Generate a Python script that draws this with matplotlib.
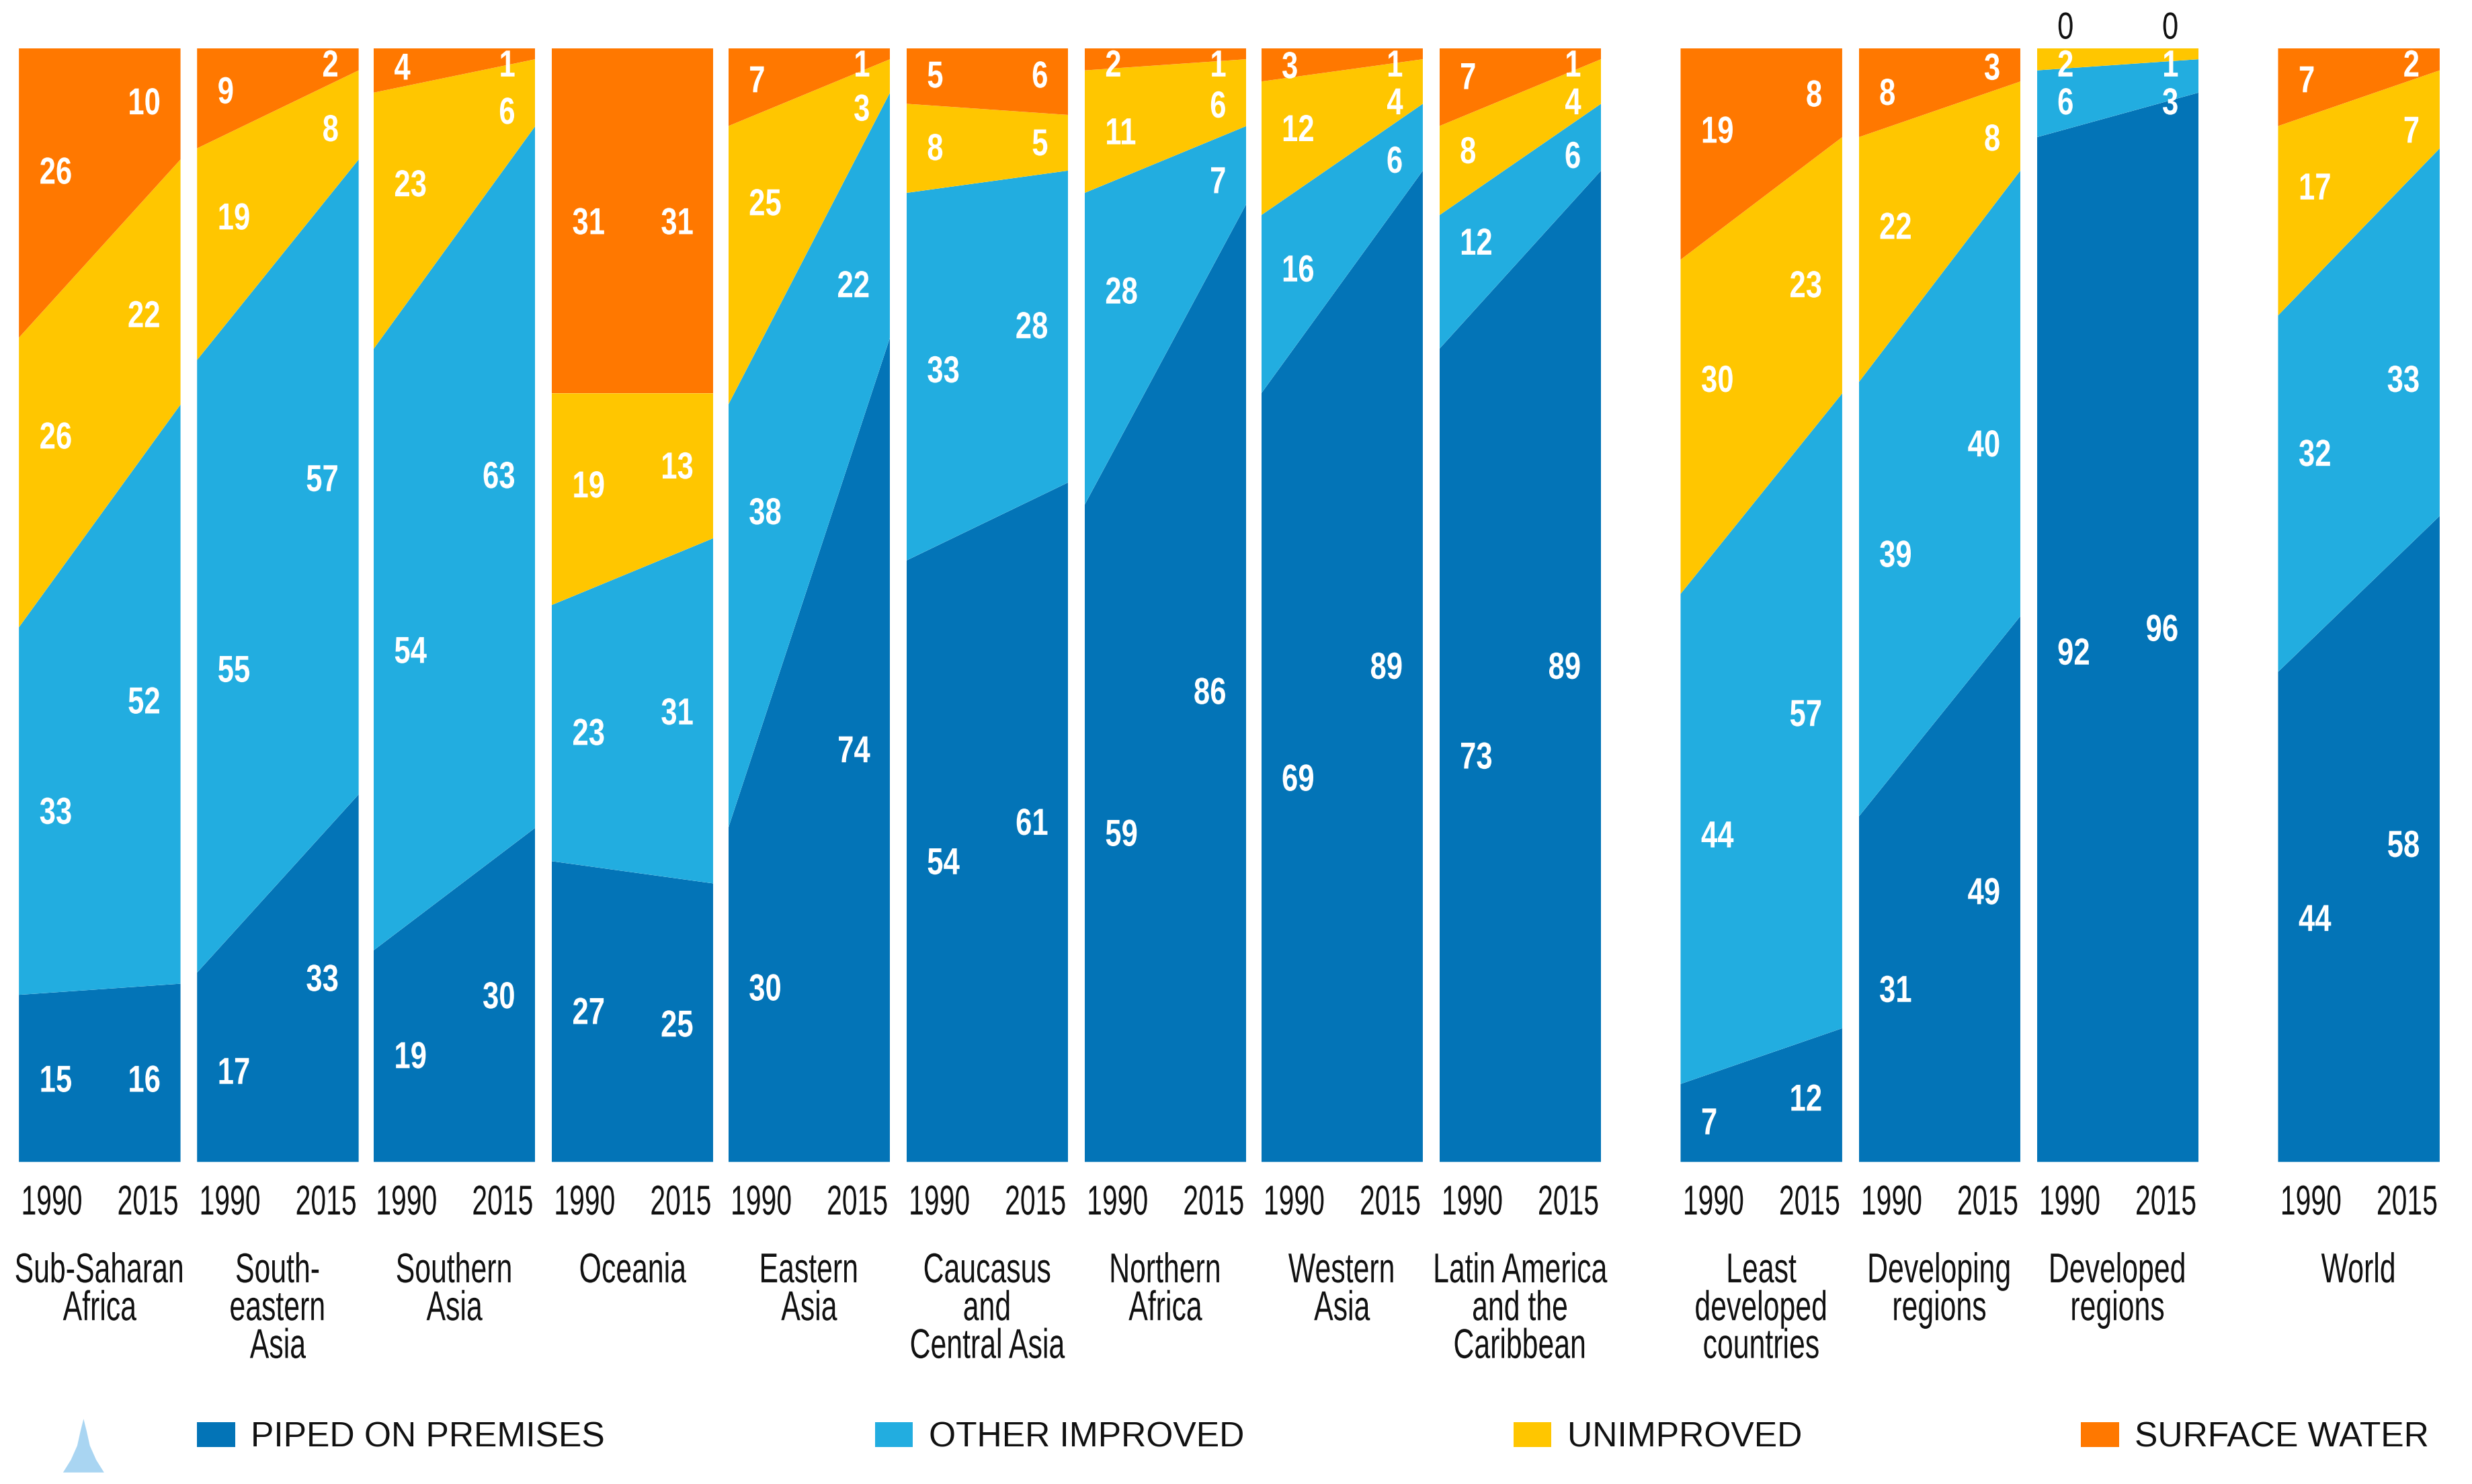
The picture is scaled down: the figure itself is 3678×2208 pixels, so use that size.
import matplotlib
matplotlib.use("Agg")
import matplotlib.pyplot as plt
from matplotlib.patches import Polygon, Rectangle
from matplotlib.patheffects import AbstractPathEffect
from matplotlib.text import Text
from matplotlib.transforms import Affine2D, Bbox

REGIONS = ["Sub-Saharan\nAfrica", "South-\neastern\nAsia", "Southern\nAsia", "Oceania", "Eastern\nAsia",
           "Caucasus\nand\nCentral Asia", "Northern\nAfrica", "Western\nAsia", "Latin America\nand the\nCaribbean",
           "Least\ndeveloped\ncountries", "Developing\nregions", "Developed\nregions", "World"]
YEARS = ["1990", "2015"]
CATEGORIES = ["PIPED ON PREMISES", "OTHER IMPROVED", "UNIMPROVED", "SURFACE WATER"]

PIPED_1990 = [15, 17, 19, 27, 30, 54, 59, 69, 73, 7, 31, 92, 44]
PIPED_2015 = [16, 33, 30, 25, 74, 61, 86, 89, 89, 12, 49, 96, 58]
OTHER_1990 = [33, 55, 54, 23, 38, 33, 28, 16, 12, 44, 39, 6, 32]
OTHER_2015 = [52, 57, 63, 31, 22, 28, 7, 6, 6, 57, 40, 3, 33]
UNIMP_1990 = [26, 19, 23, 19, 25, 8, 11, 12, 8, 30, 22, 2, 17]
UNIMP_2015 = [22, 8, 6, 13, 3, 5, 6, 4, 4, 23, 8, 1, 7]
SURF_1990 = [26, 9, 4, 31, 7, 5, 2, 3, 7, 19, 8, 0, 7]
SURF_2015 = [10, 2, 1, 31, 1, 6, 1, 1, 1, 8, 3, 0, 2]

# layout, in units of a 1568-wide view of the canvas
S = 3678 / 1568
W, H = 3678, 2208
PANEL_LEFT = [12, 125, 237, 350, 462, 575, 688, 800, 913, 1066, 1179, 1292, 1445]
PANEL_W = 102.5
TOP, BOTTOM = 30.5, 737
LABEL_Y_1990 = [(685, 515, 277, 109), (680, 425, 138, 58), (670, 413, 117, 43), (642, 465, 308, 141),
                (627, 325, 129, 51), (547, 235, 94, 48), (529, 185, 84, 41), (494, 171, 82, 42),
                (480, 154, 96, 49), (712, 530, 241, 83), (628, 352, 144, 59), (414, 65, 41, 17),
                (583, 288, 119, 51)]
LABEL_Y_2015 = [(685, 445, 200, 65), (621, 304, 82, 41), (632, 302, 71, 41), (650, 452, 296, 141),
                (476, 181, 69, 41), (522, 207, 91, 48), (439, 115, 67, 41), (423, 102, 65, 41),
                (423, 99, 65, 41), (697, 453, 181, 60), (566, 282, 88, 43), (399, 65, 41, 17),
                (536, 241, 83, 41)]
LEGEND_X = [125, 555, 960, 1320]
COLORS = ["#0374B7", "#22ADE0", "#FFC600", "#FF7800"]
FONT = "Liberation Sans"
INK = "#111111"


class Condense(AbstractPathEffect):
    """Draw a text narrower than its font, keeping its anchor in place."""

    def __init__(self, sx, anchor):
        super().__init__()
        self.sx, self.anchor = sx, anchor

    def draw_path(self, renderer, gc, tpath, affine, rgbFace=None):
        xs = tpath.vertices[:, 0]
        a = {"left": xs.min(), "right": xs.max(), "center": (xs.min() + xs.max()) / 2}[self.anchor]
        t = Affine2D().translate(-a, 0).scale(self.sx, 1).translate(a, 0) + affine
        renderer.draw_path(gc, tpath, t, rgbFace)


class NarrowText(Text):
    """Text whose reported extent is that of its condensed drawing."""

    def __init__(self, *args, sx=1.0, **kwargs):
        super().__init__(*args, **kwargs)
        self.sx = sx
        self.set_path_effects([Condense(sx, self.get_ha())])

    def get_window_extent(self, renderer=None, dpi=None):
        b = super().get_window_extent(renderer, dpi)
        anchor = {"left": b.x0, "right": b.x1, "center": (b.x0 + b.x1) / 2}[self.get_ha()]
        return Bbox.from_extents(anchor + (b.x0 - anchor) * self.sx, b.y0,
                                 anchor + (b.x1 - anchor) * self.sx, b.y1)


fig = plt.figure(figsize=(W / 100, H / 100), dpi=100, facecolor="white")


def fx(x):
    return x * S / W


def fy(y):
    return 1 - y * S / H


def pt(pixels):
    return pixels * 72 / 100


def label(x, y, s, ha="center", size=62, sx=0.69, weight="normal", color=INK):
    t = NarrowText(fx(x), fy(y - 1), s, sx=sx, ha=ha, va="center_baseline", family=FONT, weight=weight,
                   color=color, fontsize=pt(size), transform=fig.transFigure)
    fig.add_artist(t)
    return t


for i, left in enumerate(PANEL_LEFT):
    ax = fig.add_axes([fx(left), fy(BOTTOM), PANEL_W * S / W, (BOTTOM - TOP) * S / H])
    series = [[PIPED_1990[i], PIPED_2015[i]], [OTHER_1990[i], OTHER_2015[i]],
              [UNIMP_1990[i], UNIMP_2015[i]], [SURF_1990[i], SURF_2015[i]]]
    ax.stackplot([0, 1], *series, colors=COLORS, linewidth=0)
    ax.set_xlim(0, 1)
    ax.set_ylim(0, 100)
    ax.axis("off")

    for j, s in enumerate(series):
        for k, (lx, ha, ys) in enumerate([(left + 13, "left", LABEL_Y_1990), (left + 90, "right", LABEL_Y_2015)]):
            zero = s[k] == 0
            label(lx, ys[i][j], str(s[k]), ha=ha, size=56, sx=0.78,
                  weight="normal" if zero else "bold", color=INK if zero else "white")

    label(left + 21, 762, YEARS[0], sx=0.66)
    label(left + 82, 762, YEARS[1], sx=0.66)
    for n, line in enumerate(REGIONS[i].split("\n")):
        label(left + PANEL_W / 2, 805 + 24 * n, line)

for lx, name, c in zip(LEGEND_X, CATEGORIES, COLORS):
    fig.add_artist(Rectangle((fx(lx), fy(918)), 24 * S / W, 16 * S / H, transform=fig.transFigure,
                             facecolor=c, edgecolor="none"))
    fig.text(fx(lx + 34), fy(909.5), name, ha="left", va="center_baseline", family=FONT,
             fontsize=pt(51.5), color=INK)

# small drop emblem at the lower left
drop = [(53, 900), (51, 908), (49, 917), (45, 926), (40, 934), (66, 934), (61, 926), (57, 917), (55, 908)]
fig.add_artist(Polygon([(fx(a), fy(b)) for a, b in drop], closed=True, transform=fig.transFigure,
                       facecolor="#A9D5F2", edgecolor="none"))

fig.savefig("out.png", dpi=100, facecolor="white")
